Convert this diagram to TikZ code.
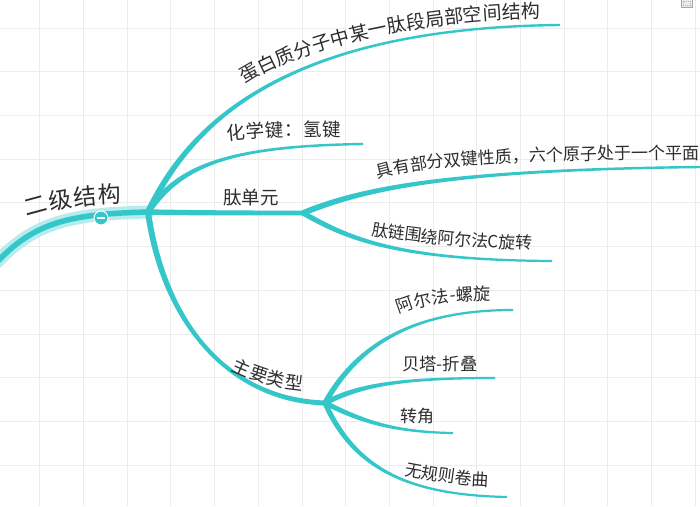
\documentclass[tikz,border=0pt]{standalone}
\usepackage{fontspec}
\setmainfont{Noto Sans CJK SC}
\usetikzlibrary{calc,decorations.text}
\definecolor{teal1}{RGB}{52,198,200}
\definecolor{halo}{RGB}{182,236,238}
\definecolor{gridc}{RGB}{236,236,236}
\definecolor{txt}{RGB}{45,45,45}
\tikzset{
  branchfill/.style={fill=teal1},
  rootline/.style={draw=teal1,line width=5.5pt,line cap=round},
  haloline/.style={draw=halo,line width=13pt,line cap=round},
  flatlabel/.style={inner sep=0pt,text=txt,anchor=base west},
}
% tapered branch: start, c1, c2, end, half width at start, half width at end
\newcommand\taperline[6]{%
  \fill[branchfill] ($(#1)!#5!90:(#2)$) .. controls ($(#2)!#5!-90:(#1)$) and ($(#3)!#6!90:(#4)$) .. ($(#4)!#6!-90:(#3)$)
    -- ($(#4)!#6!90:(#3)$) .. controls ($(#3)!#6!-90:(#4)$) and ($(#2)!#5!90:(#1)$) .. ($(#1)!#5!-90:(#2)$) -- cycle;}
% text along a curve: path, font size, text
\newcommand\curvetext[3]{%
  \path[decorate,decoration={text along path,text color=txt,
     text={|\fontsize{#2}{#2}\selectfont|#3},text align={fit to path}}] #1;}
\begin{document}
\begin{tikzpicture}[x=1pt,y=-1pt]
\useasboundingbox (0,0) rectangle (700,506);
\fill[white] (0,0) rectangle (700,506);
% grid
\begin{scope}
\clip (0,0) rectangle (700,506);
\foreach \i in {0,...,16} {\draw[gridc,line width=0.8pt] ({-4+43.7*\i},0) -- ({-4+43.7*\i},506);}
\foreach \j in {1,...,12} {\draw[gridc,line width=0.8pt] (0,{-15.7+43.7*\j}) -- (700,{-15.7+43.7*\j});}
\end{scope}
% small icon top right
\draw[gray!70,fill=gray!15,line width=0.6pt] (681,-1) rectangle (692,7);
\draw[gray!60,line width=0.5pt,dash pattern=on 1pt off 1pt] (683,1) rectangle (690,5);

% coordinates
\coordinate (root0) at (-3,262);
\coordinate (hub) at (148,212);
\coordinate (pep) at (303,213);
\coordinate (typ) at (325,403);
\coordinate (eA) at (560,25);
\coordinate (eB) at (363,144);
\coordinate (eE1) at (700,167);
\coordinate (eE2) at (552,261);
\coordinate (eF1) at (513,310);
\coordinate (eF2) at (495,378);
\coordinate (eF3) at (453,433);
\coordinate (eF4) at (507,497);

% root branch
\clip (0,0) rectangle (700,506);
\draw[haloline] (root0) .. controls (35,222) and (70,214) .. (hub);
\draw[rootline] (root0) .. controls (35,222) and (70,214) .. (hub);

% first level branches
\taperline{hub}{185,135}{270,28}{eA}{3.0pt}{1.2pt}
\taperline{hub}{180,165}{230,146}{eB}{2.9pt}{1.2pt}
\taperline{hub}{200,213}{250,213}{pep}{2.7pt}{2.4pt}
\taperline{hub}{164,325}{230,400}{typ}{3.0pt}{2.5pt}
% second level
\taperline{pep}{360,190}{440,170}{eE1}{2.9pt}{1.2pt}
\taperline{pep}{350,240}{400,260}{eE2}{2.6pt}{1.1pt}
\taperline{typ}{360,340}{420,310}{eF1}{2.7pt}{1.1pt}
\taperline{typ}{360,385}{400,378}{eF2}{2.6pt}{1.1pt}
\taperline{typ}{360,420}{390,432}{eF3}{2.5pt}{1.1pt}
\taperline{typ}{355,470}{410,495}{eF4}{2.6pt}{1.1pt}

% collapse button
\node[circle,fill=teal1,draw=white,line width=1pt,minimum size=14pt,inner sep=0pt] (btn) at (101,218) {};
\draw[white,line width=1.6pt] ($(btn.center)+(-4,0)$) -- ($(btn.center)+(4,0)$);

% labels
\curvetext{(27,217) .. controls (55,208) and (85,204) .. (121,203)}{23pt}{二级结构}
\curvetext{(245,84) .. controls (290,55) and (390,22) .. (540,18)}{19pt}{蛋白质分子中某一肽段局部空间结构}
\curvetext{(228,141) .. controls (260,137) and (300,136) .. (341,136)}{18.5pt}{化学键：氢键}
\node[flatlabel,font=\fontsize{18.5pt}{18.5pt}\selectfont] (lpep) at (223,204) {肽单元};
\curvetext{(378,179) .. controls (425,165) and (500,160) .. (694,159)}{17pt}{具有部分双键性质，六个原子处于一个平面}
\curvetext{(371,235) .. controls (420,243) and (470,248) .. (532,249)}{16.8pt}{肽链围绕阿尔法C旋转}
\curvetext{(231,370) .. controls (255,381) and (275,388) .. (302,390)}{18pt}{主要类型}
\curvetext{(399,314) .. controls (420,305) and (450,300) .. (491,300)}{17.3pt}{阿尔法-螺旋}
\node[flatlabel,font=\fontsize{17.3pt}{17.3pt}\selectfont] (lF2) at (402,370) {贝塔-折叠};
\node[flatlabel,font=\fontsize{17pt}{17pt}\selectfont] (lF3) at (400,422) {转角};
\curvetext{(404,475) .. controls (430,480) and (460,485) .. (486,486)}{17pt}{无规则卷曲}
\end{tikzpicture}
\end{document}
